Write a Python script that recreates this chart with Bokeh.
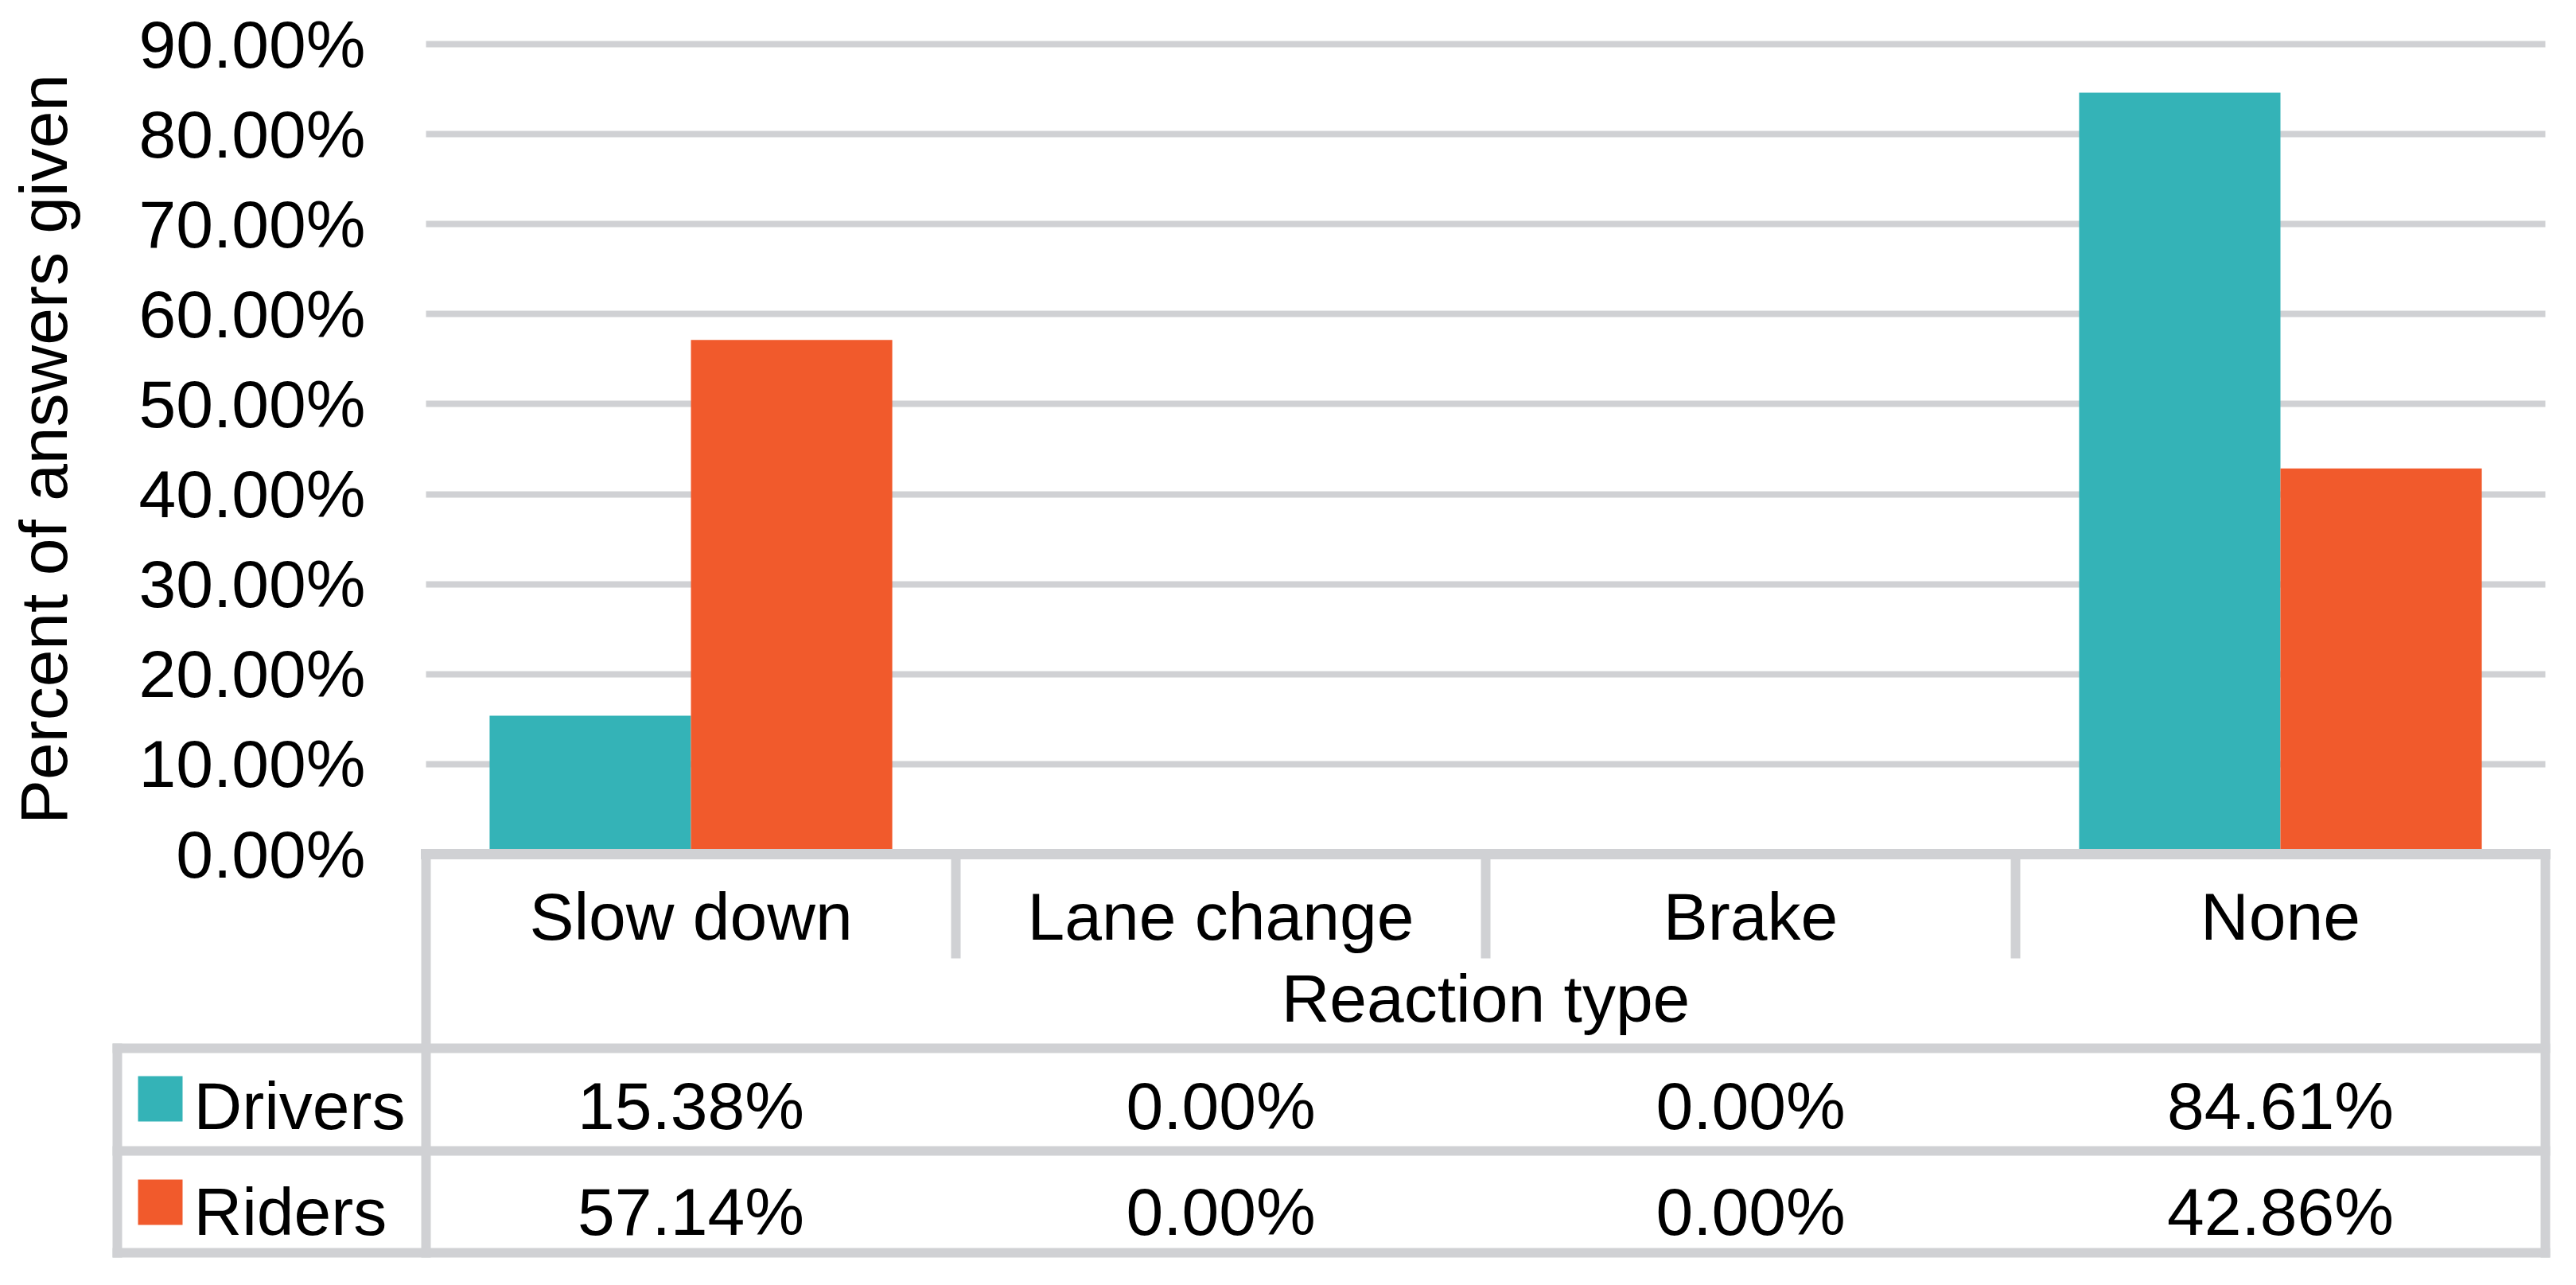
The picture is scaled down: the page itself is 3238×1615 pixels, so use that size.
from bokeh.plotting import figure
from bokeh.models import ColumnDataSource, Range1d, FixedTicker, PrintfTickFormatter
from bokeh.core.properties import value
from bokeh.embed import file_html
from bokeh.resources import INLINE

# ---- data ----
categories = ["Slow down", "Lane change", "Brake", "None"]
series_names = ["Drivers", "Riders"]
drivers = [15.38, 0.00, 0.00, 84.61]
riders = [57.14, 0.00, 0.00, 42.86]
y_ticks = [0, 10, 20, 30, 40, 50, 60, 70, 80, 90]
x_title = "Reaction type"
y_title = "Percent of answers given"

# ---- style ----
TEAL = "#34B3B7"
ORANGE = "#F15A2C"
GRAY = "#D0D1D4"
FONT = "Liberation Sans"
FS = "84px"

n = len(categories)
BAR_W = 0.38

# layout helpers (screen px of the page -> data units), structure only
PX_PER_UNIT_Y = 1018 / 90.0     # pixels per percent
Y0_SCREEN = 1081                # screen y of 0 %
def py(sy):
    return (Y0_SCREEN - sy) / PX_PER_UNIT_Y

CAT_W = 666.0                   # pixels per category
X0_SCREEN = 543                 # screen x of the first category edge
def px(sx):
    return (sx - X0_SCREEN) / CAT_W

idx = list(range(n))
src = ColumnDataSource(dict(
    cat=categories,
    xd=[i + 0.5 - BAR_W / 2 for i in idx],
    xr=[i + 0.5 + BAR_W / 2 for i in idx],
    drivers=drivers, riders=riders))

W, H = 3222, 1599
x_lo, x_hi = px(8), px(W + 8)
y_lo, y_hi = py(H + 8), py(8)

p = figure(width=W, height=H,
           x_range=Range1d(x_lo, x_hi), y_range=Range1d(y_lo, y_hi),
           x_axis_location=None,
           output_backend="svg", toolbar_location=None,
           min_border_left=0, min_border_right=0, min_border_top=0, min_border_bottom=0)
p.outline_line_color = None
p.background_fill_color = "white"
p.border_fill_color = "white"
p.xgrid.visible = False

p.ygrid.ticker = FixedTicker(ticks=y_ticks)
p.ygrid.grid_line_color = GRAY
p.ygrid.grid_line_width = 8
p.ygrid.cross_bounds = (0, n)

ax = p.yaxis[0]
ax.fixed_location = 0
ax.bounds = (0, 90)
ax.ticker = FixedTicker(ticks=y_ticks)
ax.formatter = PrintfTickFormatter(format="%.2f%%")
ax.axis_line_color = None
ax.major_tick_line_color = None
ax.minor_tick_line_color = None
ax.major_tick_out = 0
ax.major_tick_in = 0
ax.major_label_standoff = 76
ax.major_label_text_font = FONT
ax.major_label_text_font_size = FS
ax.major_label_text_color = "black"
ax.axis_label = y_title
ax.axis_label_text_font = FONT
ax.axis_label_text_font_size = FS
ax.axis_label_text_font_style = "normal"
ax.axis_label_text_color = "black"
ax.axis_label_standoff = 70

# bars
p.vbar(x="xd", top="drivers", width=BAR_W, source=src, fill_color=TEAL, line_color=None)
p.vbar(x="xr", top="riders", width=BAR_W, source=src, fill_color=ORANGE, line_color=None)

# ---- data table structure ----
TL = px(155)
r1, r2, rb = py(1325), py(1454), py(1582)
sep_bot = py(1206)
sx0 = [0, n] + [1, 2, 3] + [TL] + [0, TL, TL, TL]
sx1 = [0, n] + [1, 2, 3] + [TL] + [n, n, n, n]
sy0 = [0, 0] + [0, 0, 0] + [r1] + [0, r1, r2, rb]
sy1 = [rb, rb] + [sep_bot] * 3 + [rb] + [0, r1, r2, rb]
lw = [12, 12, 12, 12, 12, 12, 13, 12, 12, 12]
p.segment(x0=sx0, y0=sy0, x1=sx1, y1=sy1, line_color=GRAY, line_width=lw, line_cap="square")

centers = [i + 0.5 for i in idx]
def txt(xs, ys, texts, align="center"):
    p.text(x=xs, y=ys, text=texts, text_font=value(FONT), text_font_size=value(FS),
           text_align=align, text_baseline="alphabetic", text_color="black")

txt(centers, [py(1159)] * n, categories)
txt([n / 2], [py(1262)], [x_title])
txt(centers, [py(1397)] * n, [f"{v:.2f}%" for v in drivers])
txt(centers, [py(1530)] * n, [f"{v:.2f}%" for v in riders])

# legend keys inside the table
p.quad(left=[px(181)] * 2, right=[px(237)] * 2,
       top=[py(1360), py(1490)], bottom=[py(1417), py(1547)],
       fill_color=[TEAL, ORANGE], line_color=None)
txt([px(251)] * 2, [py(1397), py(1530)], series_names, align="left")

open("out.html", "w").write(file_html(p, INLINE))
